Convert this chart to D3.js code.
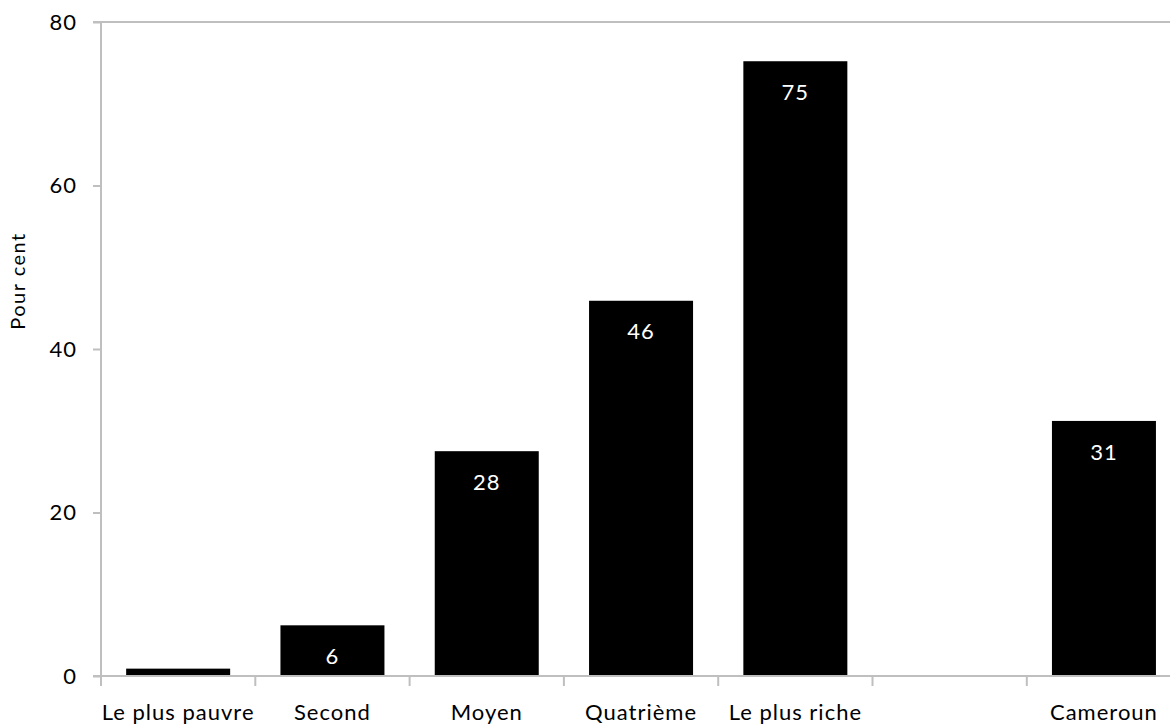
<!DOCTYPE html>
<html>
<head>
<meta charset="utf-8">
<script src="https://cdn.jsdelivr.net/npm/d3@7"></script>
<style>
  html, body { margin: 0; padding: 0; background: #fff; }
  svg { display: block; }
  text { font-family: Lato, "Open Sans", sans-serif; }
</style>
</head>
<body>
<svg id="chart" width="1170" height="725"></svg>
<script>
const categories = ["Le plus pauvre", "Second", "Moyen", "Quatrième", "Le plus riche", "", "Cameroun"];
const values = [0.9, 6.2, 27.5, 45.9, 75.2, null, 31.2];
const labels = ["", "6", "28", "46", "75", "", "31"];
const yTicks = [0, 20, 40, 60, 80];
const yTitle = "Pour cent";

(function () {
const svg = d3.select("#chart");
const mLeft = 101, mTop = 22, mBottom = 676;
const step = 154.3;
const mRight = mLeft + step * categories.length;
const axisColor = "#bfbfbf";

const keys = categories.map((c, i) => i);
const x = d3.scaleBand().domain(keys).range([mLeft, mRight])
  .paddingInner(0.326).paddingOuter(0.163);
const y = d3.scaleLinear().domain([0, 80]).range([mBottom, mTop]);

// top border line at 80
svg.append("line")
  .attr("x1", mLeft - 8).attr("x2", 1170)
  .attr("y1", y(80)).attr("y2", y(80))
  .attr("stroke", axisColor).attr("stroke-width", 2);

// bars
svg.append("g").selectAll("rect")
  .data(keys.filter(i => values[i] != null))
  .join("rect")
  .attr("x", i => x(i))
  .attr("width", x.bandwidth())
  .attr("y", i => y(values[i]))
  .attr("height", i => y(0) - y(values[i]))
  .attr("fill", "#000");

// value labels
svg.append("g").selectAll("text")
  .data(keys.filter(i => labels[i] !== ""))
  .join("text")
  .attr("x", i => x(i) + x.bandwidth() / 2)
  .attr("y", i => y(values[i]) + 31)
  .attr("dy", "0.35em")
  .attr("text-anchor", "middle")
  .attr("fill", "#fff")
  .attr("font-size", 22)
  .attr("letter-spacing", 1)
  .text(i => labels[i]);

// y axis
const yAxis = svg.append("g")
  .attr("transform", `translate(${mLeft},0)`)
  .call(d3.axisLeft(y).tickValues(yTicks).tickSize(8).tickPadding(16));
yAxis.select(".domain").attr("stroke", axisColor).attr("stroke-width", 2)
  .attr("d", `M-0,${y(80)}V${y(0)}`);
yAxis.selectAll(".tick line").attr("stroke", axisColor).attr("stroke-width", 2);
yAxis.selectAll(".tick text").attr("font-size", 22).attr("fill", "#000")
  .attr("letter-spacing", 1)
  .attr("font-family", "Lato, 'Open Sans', sans-serif");

// x axis line
svg.append("line")
  .attr("x1", mLeft - 8).attr("x2", 1170)
  .attr("y1", y(0)).attr("y2", y(0))
  .attr("stroke", axisColor).attr("stroke-width", 2);

// x ticks at category boundaries
const bounds = d3.range(categories.length + 1).map(i => mLeft + i * x.step());
svg.append("g").selectAll("line")
  .data(bounds)
  .join("line")
  .attr("x1", d => d).attr("x2", d => d)
  .attr("y1", y(0)).attr("y2", y(0) + 10)
  .attr("stroke", axisColor).attr("stroke-width", 2);

// category labels
svg.append("g").selectAll("text")
  .data(keys)
  .join("text")
  .attr("x", i => x(i) + x.bandwidth() / 2)
  .attr("y", 712)
  .attr("dy", "0.35em")
  .attr("text-anchor", "middle")
  .attr("font-size", 22)
  .attr("letter-spacing", 1)
  .attr("fill", "#000")
  .text(i => categories[i]);

// y title
svg.append("text")
  .attr("transform", `translate(18,281) rotate(-90)`)
  .attr("dy", "0.35em")
  .attr("text-anchor", "middle")
  .attr("font-size", 20)
  .attr("letter-spacing", 1.5)
  .attr("fill", "#000")
  .text(yTitle);
})();
</script>
</body>
</html>
